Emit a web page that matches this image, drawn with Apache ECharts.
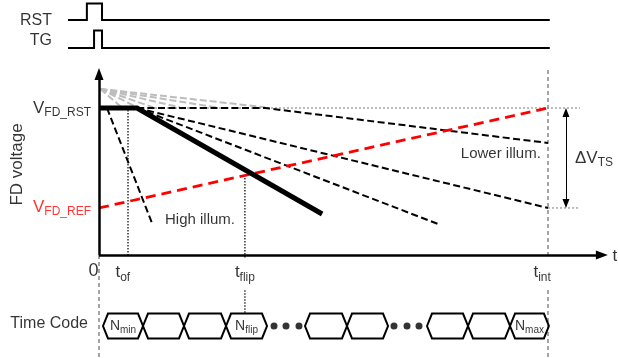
<!DOCTYPE html>
<html><head><meta charset="utf-8">
<script src="https://cdn.jsdelivr.net/npm/echarts@6/dist/echarts.min.js"></script>
<style>html,body{margin:0;padding:0;background:#fff}#c{width:618px;height:358px}</style>
</head><body><div id="c"></div>
<script>
// Units: time 0 = start of integration, 10 = t_int ; voltage 0 = time axis, 1 = V_FD_RST
const T_OF = 0.646, T_FLIP = 3.25, T_INT = 10;
const V_RST = 1.0, V_REF = 0.32;
const rstWave = [[-0.69,1.599],[-0.27,1.599],[-0.27,1.711],[0.067,1.711],[0.067,1.599],[10.04,1.599]];
const tgWave  = [[-0.69,1.408],[-0.11,1.408],[-0.11,1.527],[0.067,1.527],[0.067,1.408],[10.04,1.408]];
const fdMeasured = [[0,1],[0.846,1],[4.97,0.279]];
const refRamp = [[0,0.32],[10,1.0]];
const highIllum = [[0.178,1],[1.18,0.218]];
const lowerA = [[0.846,1],[3.70,1],[10,0.762]];
const lowerB = [[0.846,1],[10,0.32]];
const lowerC = [[0.846,1],[7.55,0.211]];
const fanStart = [0.03, 1.13];
const fanEnds = [3.70, 2.6, 1.8, 1.2, 0.85, 0.5];
const codeStarts = [0.089,0.98,1.893,2.829,4.588,5.523,7.305,8.218,9.154];
const codeEnds   = [0.98,1.893,2.829,3.742,5.523,6.437,8.218,9.154,10.02];
const codeNames  = ['min','','','flip','','','','','max'];
const codeDots = [3.898,4.165,4.454,6.57,6.86,7.127];
const CODE_MID = -0.483, CODE_HALF = 0.085;
const AXIS_TOP = 1.231, AXIS_RIGHT = 11.2, GUIDE_RIGHT = 10.71, DELTA_X = 10.4;
const DELTA_TOP = 0.969, DELTA_BOT = 0.350;
const T_INT_TOP = 1.259, BOTTOM = -0.70;

const FONT = 'Liberation Sans, Arial, sans-serif';
const chart = echarts.init(document.getElementById('c'), null, {renderer:'canvas'});

function ln(data, color, width, type, z, name){
  return {type:'line', name:name||'', data, symbol:'none', silent:true, animation:false, z:z||2,
    lineStyle:{color, width, type:type||'solid', cap:'butt', join:'miter'}};
}
const series = [];
// pulses
series.push(ln(rstWave,'#000',2,'solid',3));
series.push(ln(tgWave,'#000',2,'solid',3));
// grey pre-reset fan
fanEnds.forEach(e=>series.push(ln([fanStart,[e,1.005]],'#bdbdbd',2,[7,3],1)));
// guide lines
series.push(ln([[0,V_RST],[GUIDE_RIGHT,V_RST]],'#999',1.3,[2,2],1));
series.push(ln([[T_INT,V_REF],[GUIDE_RIGHT,V_REF]],'#999',1.3,[2,2],1));
series.push(ln([[T_INT,T_INT_TOP],[T_INT,0]],'#888',1.5,[4,3],1));
series.push(ln([[T_INT,-0.238],[T_INT,BOTTOM]],'#888',1.5,[4,3],1));
series.push(ln([[0,0],[0,BOTTOM]],'#888',1.5,[4,3],1));
series.push(ln([[T_OF,0.986],[T_OF,0]],'#000',1.2,[1.5,1.5],2));
series.push(ln([[T_FLIP,0.545],[T_FLIP,-0.02]],'#000',1.2,[1.5,1.5],2));
series.push(ln([[T_FLIP,-0.24],[T_FLIP,CODE_MID+CODE_HALF]],'#000',1.2,[1.5,1.5],2));
// illumination ramps
[highIllum, lowerA, lowerB, lowerC].forEach(d=>series.push(ln(d,'#000',2,[7,3.5],3)));
series.push(ln(refRamp,'#ff0000',2.8,[10,6],4));
series.push(ln(fdMeasured,'#000',5,'solid',5));
// axes with arrows
series.push({type:'line', data:[], silent:true, animation:false, z:6,
  markLine:{silent:true, animation:false, label:{show:false}, symbolSize:[9,12],
    lineStyle:{color:'#000', width:2.5, type:'solid'},
    data:[
      [{coord:[0,0],symbol:'none'},{coord:[0,AXIS_TOP],symbol:'triangle'}],
      [{coord:[0,0],symbol:'none'},{coord:[AXIS_RIGHT,0],symbol:'triangle'}]
    ]}});
series.push({type:'line', data:[], silent:true, animation:false, z:6,
  markLine:{silent:true, animation:false, label:{show:false}, symbolSize:[7,9],
    lineStyle:{color:'#000', width:1, type:'solid'},
    data:[[{coord:[DELTA_X,DELTA_TOP],symbol:'triangle'},{coord:[DELTA_X,DELTA_BOT],symbol:'triangle'}]]}});
// time code bus
series.push({type:'custom', silent:true, animation:false, z:4,
  data: codeStarts.map((s,i)=>[s,codeEnds[i],CODE_MID]),
  encode:{x:[0,1], y:2},
  renderItem(params, api){
    const l = api.coord([api.value(0), CODE_MID]);
    const r = api.coord([api.value(1), CODE_MID]);
    const top = api.coord([api.value(0), CODE_MID+CODE_HALF])[1];
    const bot = api.coord([api.value(0), CODE_MID-CODE_HALF])[1];
    const s = 5;
    return {type:'polygon', shape:{points:[[l[0],l[1]],[l[0]+s,top],[r[0]-s,top],[r[0],r[1]],[r[0]-s,bot],[l[0]+s,bot]]},
      style:{fill:'none', stroke:'#000', lineWidth:2}};
  }});
series.push({type:'scatter', silent:true, animation:false, z:4, symbol:'circle', symbolSize:7,
  itemStyle:{color:'#000'}, data: codeDots.map(t=>[t,CODE_MID])});
// code labels
series.push({type:'scatter', silent:true, animation:false, z:7, symbolSize:0,
  data: codeStarts.map((s,i)=>({value:[(s+codeEnds[i])/2, CODE_MID], name:codeNames[i]})).filter(d=>d.name),
  label:{show:true, position:'inside', color:'#000', fontFamily:FONT,
    formatter: p=>'{n|N}{s|'+p.name+'}',
    rich:{n:{fontSize:14, lineHeight:18, fontFamily:FONT}, s:{fontSize:10, lineHeight:10, verticalAlign:'bottom', fontFamily:FONT}}}});

// text annotations
const rich = {
  v:{fontSize:17, lineHeight:22, fontFamily:FONT},
  s:{fontSize:12, lineHeight:12, verticalAlign:'bottom', fontFamily:FONT}
};
const texts = [
  {p:[-1.047,1.592], f:'RST', a:'right', size:16},
  {p:[-1.047,1.456], f:'TG', a:'right', size:16},
  {p:[-1.815,0.616], f:'FD voltage', a:'center', size:17, rot:90},
  {p:[-0.178,1.0], f:'{v|V}{s|FD_RST}', a:'right'},
  {p:[-0.178,0.327], f:'{v|V}{s|FD_REF}', a:'right', color:'#ff0000'},
  {p:[-0.12,-0.112], f:'0', a:'center', size:18},
  {p:[0.53,-0.12], f:'{v|t}{s|of}', a:'center'},
  {p:[T_FLIP,-0.12], f:'{v|t}{s|flip}', a:'center'},
  {p:[9.87,-0.12], f:'{v|t}{s|int}', a:'center'},
  {p:[11.49,-0.007], f:'t', a:'center', size:17},
  {p:[2.25,0.238], f:'High illum.', a:'center', size:15},
  {p:[8.95,0.687], f:'Lower illum.', a:'center', size:15},
  {p:[10.6,0.66], f:'{v|ΔV}{s|TS}', a:'left'},
  {p:[-0.245,-0.469], f:'Time Code', a:'right', size:16}
];
series.push({type:'scatter', silent:true, animation:false, z:8, symbolSize:0,
  data: texts.map(t=>({value:t.p, label:{show:true, position:'inside', formatter:t.f, align:t.a,
    verticalAlign:'middle', rotate:t.rot||0, color:t.color||'#000', fontSize:t.size||17, fontFamily:FONT, rich}}))});

chart.setOption({
  animation:false,
  backgroundColor:'#fff',
  grid:{left:0, right:0, top:0, bottom:0, containLabel:false},
  xAxis:{type:'value', min:-2.2049, max:11.559, show:false},
  yAxis:{type:'value', min:-0.7007, max:1.7347, show:false},
  series
});
</script></body></html>
